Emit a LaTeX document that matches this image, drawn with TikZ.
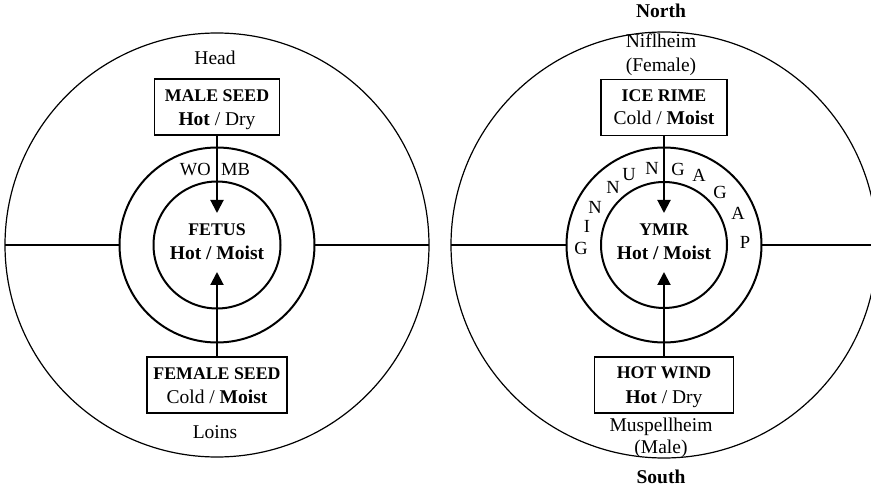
\documentclass[tikz,border=0pt]{standalone}
\usepackage{fontspec}
\setmainfont{Liberation Serif}
\usetikzlibrary{arrows.meta}
\begin{document}
\begin{tikzpicture}[x=1pt,y=-1pt,
  ring/.style={draw, circle, inner sep=0pt, outer sep=0pt},
  outerring/.style={ring, line width=1.2pt},
  innerring/.style={ring, line width=2pt},
  seedbox/.style={draw, rectangle, line width=1.1pt, inner sep=0pt, outer sep=0pt, minimum height=56pt},
  txt/.style={inner sep=0pt, anchor=base, font=\fontsize{19.5}{24}\selectfont},
  caps/.style={inner sep=0pt, anchor=base, font=\fontsize{17.8}{24}\selectfont\bfseries},
  ltr/.style={inner sep=0pt, font=\fontsize{18.5}{20}\selectfont},
  wombtxt/.style={inner sep=0pt, font=\fontsize{18.5}{20}\selectfont},
  feed/.style={line width=2pt, -{Triangle[length=13pt,width=13pt]}},
  axis/.style={line width=2.6pt},
]
\useasboundingbox (0,0) rectangle (871,489);

% ---------- left: conception ----------
\node[outerring, minimum size=424pt] (Lout) at (217,245) {};
\node[innerring, minimum size=195pt] (Lmid) at (217,245) {};
\node[innerring, minimum size=127pt] (Lin)  at (217,245) {};
\draw[axis] (Lout.west) -- (Lmid.west);
\draw[axis] (Lmid.east) -- (Lout.east);

\node[seedbox, minimum width=125pt] (male)   at (217,107) {};
\node[seedbox, minimum width=140pt] (female) at (217,385) {};
\coordinate (Ltop) at (217,213);
\coordinate (Lbot) at (217,272);
\draw[feed] (male.south) -- (Ltop);
\draw[feed] (female.north) -- (Lbot);

\node[txt] (head) at (215,65) {Head};
\node[caps] (maleA) at (217,102) {MALE SEED};
\node[txt] (maleB) at (217,126) {\textbf{Hot} / Dry};
\node[wombtxt, anchor=base east] (wo) at (211,176) {WO};
\node[wombtxt, anchor=base west] (mb) at (221,176) {MB};
\node[caps] (fetusA) at (217,236) {FETUS};
\node[txt] (fetusB) at (217,260) {\textbf{Hot / Moist}};
\node[caps] (femA) at (217,379) {FEMALE SEED};
\node[txt] (femB) at (217,403) {Cold / \textbf{Moist}};
\node[txt] (loins) at (215,438) {Loins};

% ---------- right: creation ----------
\node[outerring, minimum size=426pt] (Rout) at (664,245) {};
\node[innerring, minimum size=195pt] (Rmid) at (664,245) {};
\node[innerring, minimum size=126pt] (Rin)  at (664,245) {};
\draw[axis] (Rout.west) -- (Rmid.west);
\draw[axis] (Rmid.east) -- (Rout.east);

\node[seedbox, minimum width=126pt] (ice)  at (664,107.5) {};
\node[seedbox, minimum width=139pt] (wind) at (664,385) {};
\coordinate (Rtop) at (664,213);
\coordinate (Rbot) at (664,272);
\draw[feed] (ice.south) -- (Rtop);
\draw[feed] (wind.north) -- (Rbot);

\node[txt] (north) at (661,18) {\textbf{North}};
\node[txt] (nifl) at (661,48) {Niflheim};
\node[txt] (fem) at (661,72) {(Female)};
\node[caps] (iceA) at (664,102) {ICE RIME};
\node[txt] (iceB) at (664,125) {Cold / \textbf{Moist}};
\node[caps] (ymirA) at (664,236) {YMIR};
\node[txt] (ymirB) at (664,260) {\textbf{Hot / Moist}};
\node[caps] (windA) at (664,378) {HOT WIND};
\node[txt] (windB) at (664,403) {\textbf{Hot} / Dry};
\node[txt] (musp) at (661,431) {Muspellheim};
\node[txt] (male2) at (661,453) {(Male)};
\node[txt] (south) at (661,483) {\textbf{South}};

% the gap's name set around the middle ring
\node[ltr] (g1) at (581,248) {G};
\node[ltr] (g2) at (587,226) {I};
\node[ltr] (g3) at (595,207) {N};
\node[ltr] (g4) at (613,187) {N};
\node[ltr] (g5) at (629,175) {U};
\node[ltr] (g6) at (652,168) {N};
\node[ltr] (g7) at (678,169) {G};
\node[ltr] (g8) at (699,175) {A};
\node[ltr] (g9) at (720,192) {G};
\node[ltr] (g10) at (738,213) {A};
\node[ltr] (g11) at (745,242) {P};
\end{tikzpicture}
\end{document}
